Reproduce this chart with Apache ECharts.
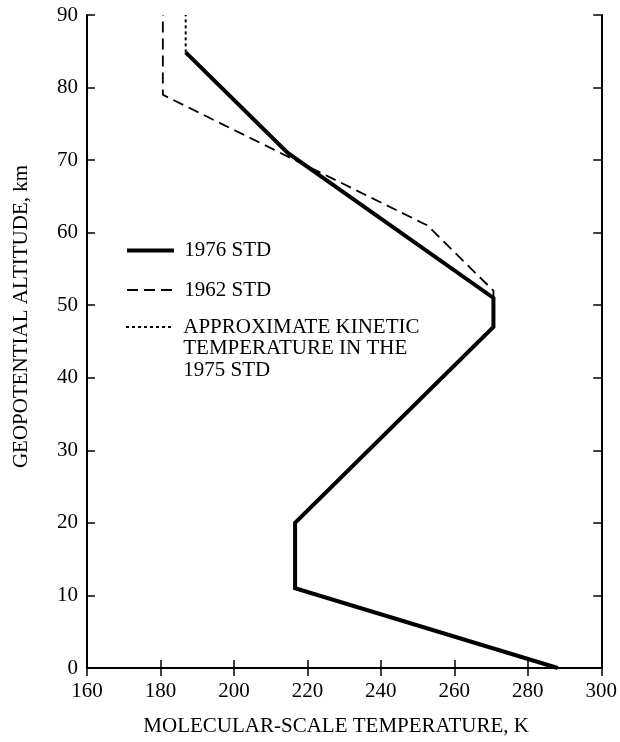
<!DOCTYPE html>
<html>
<head>
<meta charset="utf-8">
<script src="https://cdn.jsdelivr.net/npm/echarts@6/dist/echarts.min.js"></script>
<style>
html,body{margin:0;padding:0;background:#fff;}
#chart{width:620px;height:742px;}
</style>
</head>
<body>
<div id="chart"></div>
<script>
// Data
const xTicks = [160, 180, 200, 220, 240, 260, 280, 300];
const yTicks = [0, 10, 20, 30, 40, 50, 60, 70, 80, 90];
const std1976Temp = [288.15, 216.65, 216.65, 270.65, 270.65, 214.65, 186.87];
const std1976Alt  = [0, 11, 20, 47, 51, 71, 84.85];
const std1962Temp = [288.15, 216.65, 216.65, 270.65, 270.65, 252.65, 180.65, 180.65];
const std1962Alt  = [0, 11, 20, 47, 52, 61, 79, 90];
const kineticTemp = [186.87, 186.87];
const kineticAlt  = [84.85, 90];
const names = ['1976 STD', '1962 STD', 'APPROXIMATE KINETIC\nTEMPERATURE IN THE\n1975 STD'];

const pair = (xs, ys) => xs.map((x, i) => [x, ys[i]]);
const FONT = 'Liberation Serif';
const L = 21.5;

const axisCommon = {
  type: 'value',
  axisLine: {show: true, lineStyle: {color: '#000', width: 2}},
  axisTick: {show: true, inside: true, length: 8, lineStyle: {color: '#000', width: 1.5}},
  splitLine: {show: false}
};

const chart = echarts.init(document.getElementById('chart'), null, {renderer: 'canvas'});
chart.setOption({
  animation: false,
  backgroundColor: '#fff',
  grid: {left: 87, right: 13, top: 15, bottom: 68, containLabel: false},
  xAxis: [
    Object.assign({}, axisCommon, {
      position: 'bottom', min: xTicks[0], max: xTicks[xTicks.length - 1], interval: 20,
      axisLabel: {color: '#000', fontFamily: FONT, fontSize: 21, margin: 13},
      name: 'MOLECULAR-SCALE TEMPERATURE, K', nameLocation: 'middle', nameGap: 48,
      nameTextStyle: {color: '#000', fontFamily: FONT, fontSize: 21, padding: [0, 16, 0, 0]}
    }),
    Object.assign({}, axisCommon, {
      position: 'top', min: xTicks[0], max: xTicks[xTicks.length - 1], interval: 20,
      axisLabel: {show: false}
    })
  ],
  yAxis: [
    Object.assign({}, axisCommon, {
      position: 'left', min: yTicks[0], max: yTicks[yTicks.length - 1], interval: 10,
      axisLabel: {color: '#000', fontFamily: FONT, fontSize: 21, margin: 9},
      name: 'GEOPOTENTIAL ALTITUDE, km', nameLocation: 'middle', nameGap: 55,
      nameTextStyle: {color: '#000', fontFamily: FONT, fontSize: 21, padding: [0, 0, 0, 50]}
    }),
    Object.assign({}, axisCommon, {
      position: 'right', min: yTicks[0], max: yTicks[yTicks.length - 1], interval: 10,
      axisLabel: {show: false}
    })
  ],
  legend: [
    {
      orient: 'vertical', left: 120, top: 234.75, itemWidth: 47, itemHeight: 14, itemGap: 18,
      data: [names[0], names[1]],
      itemStyle: {opacity: 0},
      lineStyle: {width: 'inherit'},
      formatter: n => ' ' + n,
      textStyle: {color: '#000', fontFamily: FONT, fontSize: 21, lineHeight: L}
    },
    {
      orient: 'vertical', left: 120, top: 268.25, itemWidth: 47, itemHeight: 14,
      data: [names[2]],
      itemStyle: {opacity: 0},
      lineStyle: {width: 'inherit'},
      formatter: n => '\n\n' + n.split('\n').map(s => ' ' + s).join('\n'),
      textStyle: {color: '#000', fontFamily: FONT, fontSize: 21, lineHeight: L}
    }
  ],
  series: [
    {
      name: names[1], type: 'line', data: pair(std1962Temp, std1962Alt),
      showSymbol: false, symbol: 'none', z: 2,
      lineStyle: {color: '#000', width: 1.8, type: [11, 6]}
    },
    {
      name: names[0], type: 'line', data: pair(std1976Temp, std1976Alt),
      showSymbol: false, symbol: 'none', z: 3,
      lineStyle: {color: '#000', width: 4, join: 'miter'}
    },
    {
      name: names[2], type: 'line', data: pair(kineticTemp, kineticAlt),
      showSymbol: false, symbol: 'none', z: 3,
      lineStyle: {color: '#000', width: 2, type: [3, 3]}
    }
  ]
});
</script>
</body>
</html>
